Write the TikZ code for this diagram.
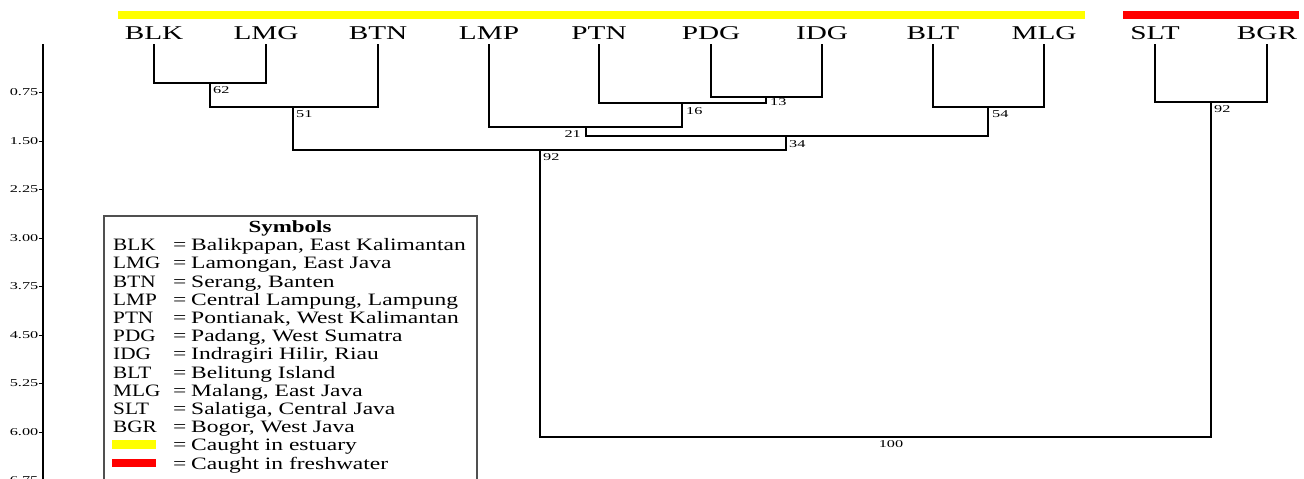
\documentclass[tikz,border=0pt]{standalone}
\usepackage{fontspec}
\setmainfont{Liberation Serif}
\newfontfamily\leaffont[FakeStretch=1.5]{Liberation Serif}
\newfontfamily\numfont[FakeStretch=1.55]{Liberation Serif}
\newfontfamily\legfont[FakeStretch=1.35]{Liberation Serif}
\newfontfamily\codefont[FakeStretch=1.22]{Liberation Serif}
\tikzset{
  branch/.style={line width=1.5pt, black, line cap=rect},
  leaf/.style={inner sep=0pt, font=\leaffont\fontsize{19.5}{20}\selectfont},
  boot/.style={inner sep=0pt, font=\numfont\fontsize{10.5}{11}\selectfont},
  axlab/.style={inner sep=0pt, anchor=east, font=\numfont\fontsize{10.5}{11}\selectfont},
  legtxt/.style={inner sep=0pt, anchor=base west, font=\legfont\fontsize{17.4}{18}\selectfont},
  legcode/.style={inner sep=0pt, anchor=base west, font=\codefont\fontsize{17.4}{18}\selectfont},
  legtitle/.style={inner sep=0pt, anchor=base, font=\legfont\bfseries\fontsize{17}{18}\selectfont},
}
\definecolor{estuary}{HTML}{FFFF00}
\definecolor{fresh}{HTML}{FF0000}
\definecolor{boxgrey}{HTML}{505050}
\begin{document}
\begin{tikzpicture}[x=1pt,y=-1pt]
\useasboundingbox (0,0) rectangle (1304,479);
\clip (0,0) rectangle (1304,479);
% habitat bars
\fill[estuary] (118,11) rectangle (1085,19);
\fill[fresh] (1123,11) rectangle (1299,19);
% leaf labels
\foreach \n/\x in {BLK/154,LMG/266,BTN/378,LMP/489,PTN/599,PDG/711,IDG/822,BLT/933,MLG/1044,SLT/1155,BGR/1267}{
  \node[leaf, anchor=base] (\n) at (\x,39) {\n};
  \coordinate (t\n) at (\x,45);
}
% internal nodes
\coordinate (j62) at (210,83);
\coordinate (j51) at (293,107);
\coordinate (j13) at (766,97);
\coordinate (j16) at (682,103);
\coordinate (j21) at (586,127);
\coordinate (j54) at (988,107);
\coordinate (j34) at (786,136);
\coordinate (j92a) at (540,150);
\coordinate (j92b) at (1211,102);
\coordinate (root) at (891,437);
% branches
\draw[branch] (tBLK) |- (j62) -| (tLMG);
\draw[branch] (j62) |- (j51) -| (tBTN);
\draw[branch] (tPDG) |- (j13) -| (tIDG);
\draw[branch] (tPTN) |- (j16) -| (j13);
\draw[branch] (tLMP) |- (j21) -| (j16);
\draw[branch] (tBLT) |- (j54) -| (tMLG);
\draw[branch] (j21) |- (j34) -| (j54);
\draw[branch] (j51) |- (j92a) -| (j34);
\draw[branch] (tSLT) |- (j92b) -| (tBGR);
\draw[branch] (j92a) |- (root) -| (j92b);
% bootstrap values
\node[boot, anchor=north west] (b62) at (213,86) {62};
\node[boot, anchor=north west] (b51) at (296,110) {51};
\node[boot, anchor=north west] (b13) at (770,98) {13};
\node[boot, anchor=north west] (b16) at (686,107) {16};
\node[boot, anchor=north east] (b21) at (581,130) {21};
\node[boot, anchor=north west] (b34) at (789,140) {34};
\node[boot, anchor=north west] (b92a) at (543,153) {92};
\node[boot, anchor=north west] (b54) at (992,110) {54};
\node[boot, anchor=north west] (b92b) at (1214,105) {92};
\node[boot, anchor=north] (b100) at (891,440) {100};
% axis
\draw[line width=1.2pt] (43,44) -- (43,485);
\foreach \v/\y in {0.75/92.5,1.50/141,2.25/189.5,3.00/238,3.75/286.5,4.50/335,5.25/383.5,6.00/432,6.75/480.5}{
  \draw[line width=0.8pt] (38.5,\y) -- (43,\y);
  \node[axlab] at (38.5,\y) {\v};
}
% legend
\draw[boxgrey, line width=1.4pt] (104,216) rectangle (477,495);
\node[legtitle] (legT) at (290,232) {Symbols};
\foreach \c/\d [count=\i from 0] in {BLK/{Balikpapan, East Kalimantan},LMG/{Lamongan, East Java},BTN/{Serang, Banten},LMP/{Central Lampung, Lampung},PTN/{Pontianak, West Kalimantan},PDG/{Padang, West Sumatra},IDG/{Indragiri Hilir, Riau},BLT/{Belitung Island},MLG/{Malang, East Java},SLT/{Salatiga, Central Java},BGR/{Bogor, West Java}}{
  \node[legcode] (lc\i) at (113,250.7+18.2*\i) {\c};
  \node[legtxt] (le\i) at (173,250.7+18.2*\i) {=};
  \node[legtxt] (ld\i) at (191,250.7+18.2*\i) {\d};
}
\fill[estuary] (112,440) rectangle (156,449);
\node[legtxt] (le11) at (173,450.9) {=};
\node[legtxt] (ld11) at (191,450.9) {Caught in estuary};
\fill[fresh] (112,458.5) rectangle (156,467);
\node[legtxt] (le12) at (173,469.1) {=};
\node[legtxt] (ld12) at (191,469.1) {Caught in freshwater};
\end{tikzpicture}
\end{document}
